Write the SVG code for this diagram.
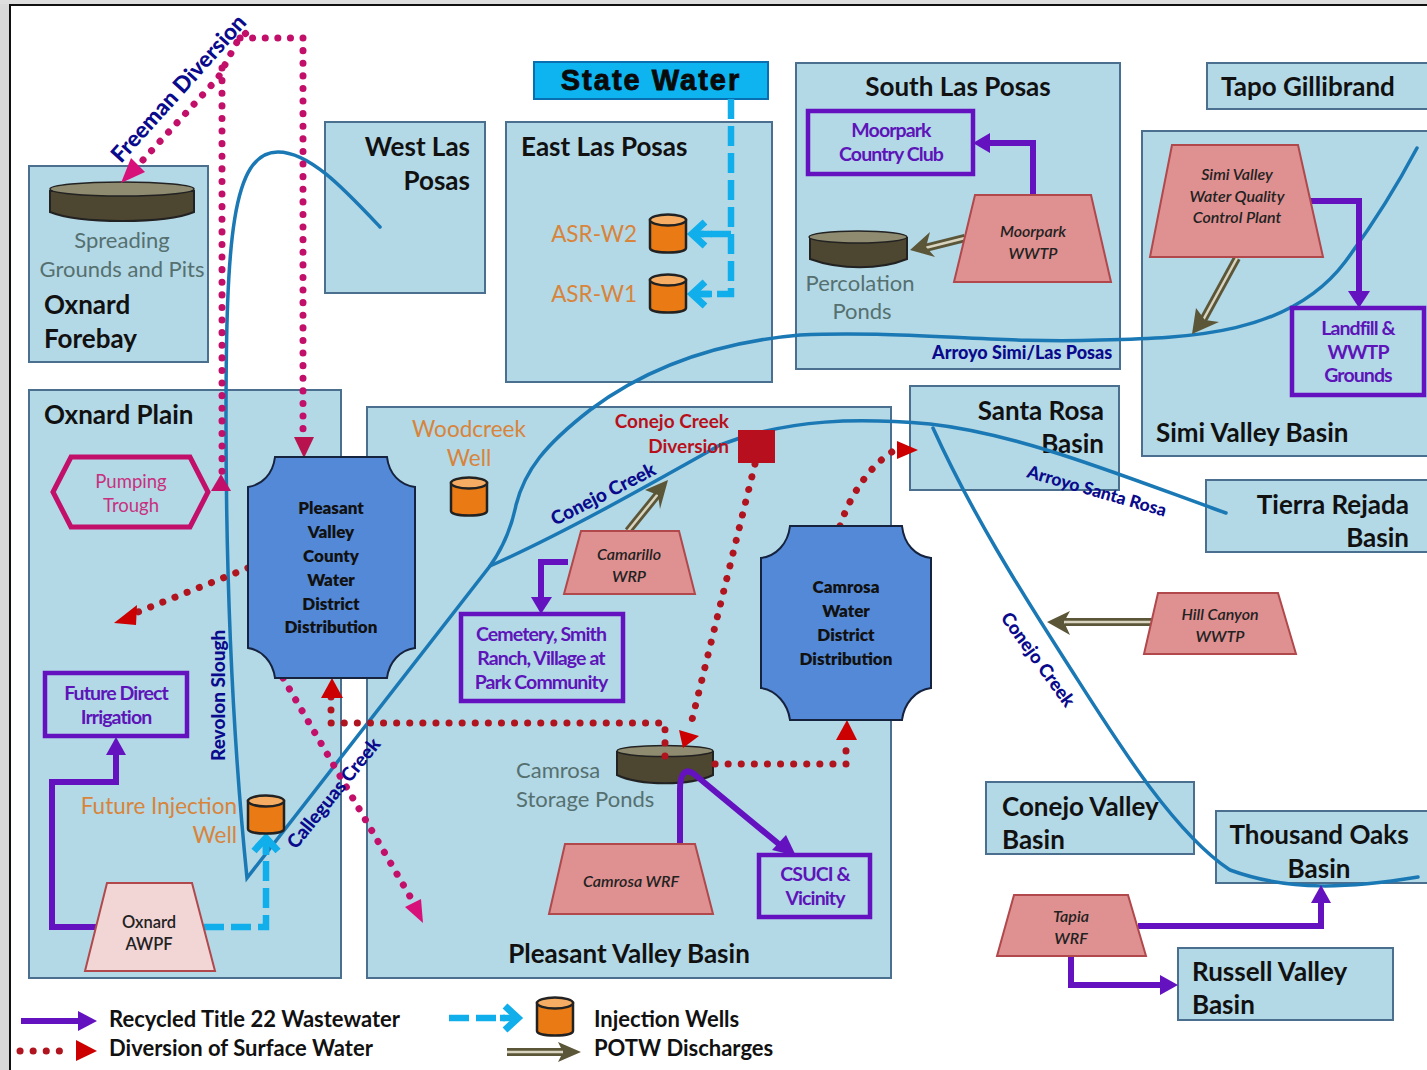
<svg xmlns="http://www.w3.org/2000/svg" width="1427" height="1070" viewBox="0 0 1427 1070">
<style>
text{font-family:Lato,"Open Sans","Liberation Sans",sans-serif}
.b{fill:#b3d8e6;stroke:#4a6f8f;stroke-width:2}
.t{font-size:26px;font-weight:700;fill:#111}
.r{text-anchor:end}
.m{text-anchor:middle}
.g{font-size:22px;fill:#55706f}
.o{font-size:22.5px;fill:#d8843a}
.w{fill:#df9090;stroke:#b0484c;stroke-width:2}
.wt{font-size:16px;font-style:italic;font-weight:600;fill:#222;text-anchor:middle}
.p{fill:none;stroke:#6412c0;stroke-width:6}
.pb{fill:#b3d8e6;stroke:#6412c0;stroke-width:4.5}
.pt{font-size:19.5px;letter-spacing:-.9px;fill:#5d14b8;font-weight:700;text-anchor:middle}
.dr{fill:none;stroke:#b0141e;stroke-width:7;stroke-linecap:round;stroke-dasharray:.1 13}
.dm{fill:none;stroke:#c2106a;stroke-width:7;stroke-linecap:round;stroke-dasharray:.1 12.5}
.c{fill:none;stroke:#1a78b4;stroke-width:3.5;stroke-linecap:round}
.cy{fill:none;stroke:#10aeea;stroke-width:6.5;stroke-dasharray:20 7}
.ch{fill:none;stroke:#10aeea;stroke-width:7;stroke-linejoin:miter}
.cl{font-size:19px;font-weight:900;fill:#0a0a8c}
.potA{fill:none;stroke:#5c5638;stroke-width:8}
.potB{fill:none;stroke:#d8d4c0;stroke-width:2.5}
.dist{fill:#5389d6;stroke:#16233f;stroke-width:2}
.dt{font-size:17px;font-weight:800;fill:#111;text-anchor:middle}
.well{fill:#ea7a14;stroke:#222;stroke-width:2.5}
.welltop{fill:#f6ad63;stroke:#222;stroke-width:2.5}
.pond{fill:#4d4630;stroke:#222;stroke-width:2}
.pondtop{fill:#8f8b70;stroke:#222;stroke-width:1.5}
.leg{font-size:22px;font-weight:700;fill:#111}
</style>
<defs>
<g id="well"><path class="well" d="M-18 -14V14C-18 20 18 20 18 14V-14Z"/><ellipse class="welltop" cx="0" cy="-14" rx="18" ry="5.5"/></g>
</defs>
<rect width="1427" height="1070" fill="#fff"/>
<rect width="9" height="1070" fill="#d9d9d9"/>
<rect width="1427" height="4" fill="#dedede"/>
<path d="M10 1070V5H1427" fill="none" stroke="#111" stroke-width="2"/>

<g id="basin-forebay"><rect class="b" x="29" y="166" width="179" height="196"/>
<text class="g m" x="122" y="248">Spreading</text><text class="g m" x="122" y="277">Grounds and Pits</text>
<text class="t" x="44" y="314">Oxnard</text><text class="t" x="44" y="348">Forebay</text></g>
<g id="basin-westlasposas"><rect class="b" x="325" y="122" width="160" height="171"/>
<text class="t r" x="470" y="156">West Las</text><text class="t r" x="470" y="190">Posas</text></g>
<g id="basin-eastlasposas"><rect class="b" x="506" y="122" width="266" height="260"/>
<text class="t" x="521" y="156">East Las Posas</text></g>
<g id="state-water"><rect x="534" y="62" width="234" height="37" fill="#0db4f0" stroke="#0a6fb0" stroke-width="2"/>
<text x="651" y="90" class="m" font-size="29" font-weight="900" fill="#0a0a0a" stroke="#0a0a0a" stroke-width=".8" letter-spacing="2" style="font-family:'Liberation Sans',sans-serif">State Water</text></g>
<g id="basin-southlasposas"><rect class="b" x="796" y="63" width="324" height="306"/>
<text class="t m" x="958" y="96">South Las Posas</text></g>
<g id="basin-tapo"><rect class="b" x="1207" y="63" width="225" height="46"/>
<text class="t" x="1221" y="96">Tapo Gillibrand</text></g>
<g id="basin-simi"><rect class="b" x="1142" y="131" width="290" height="325"/>
<text class="t" x="1156" y="442">Simi Valley Basin</text></g>
<g id="basin-oxnardplain"><rect class="b" x="29" y="390" width="312" height="588"/>
<text class="t" x="44" y="424">Oxnard Plain</text></g>
<g id="basin-pleasantvalley"><rect class="b" x="367" y="407" width="524" height="571"/>
<text class="t m" x="629" y="963">Pleasant Valley Basin</text></g>
<g id="basin-santarosa"><rect class="b" x="910" y="386" width="209" height="104"/>
<text class="t r" x="1104" y="420">Santa Rosa</text><text class="t r" x="1104" y="453">Basin</text></g>
<g id="basin-tierrarejada"><rect class="b" x="1206" y="480" width="225" height="72"/>
<text class="t r" x="1409" y="514">Tierra Rejada</text><text class="t r" x="1409" y="547">Basin</text></g>
<g id="basin-conejo"><rect class="b" x="986" y="782" width="208" height="72"/>
<text class="t" x="1002" y="816">Conejo Valley</text><text class="t" x="1002" y="849">Basin</text></g>
<g id="basin-thousandoaks"><rect class="b" x="1216" y="811" width="215" height="72"/>
<text class="t m" x="1319" y="844">Thousand Oaks</text><text class="t m" x="1319" y="878">Basin</text></g>
<g id="basin-russell"><rect class="b" x="1178" y="948" width="215" height="72"/>
<text class="t" x="1192" y="981">Russell Valley</text><text class="t" x="1192" y="1014">Basin</text></g>

<g id="node-spreading"><path class="pond" d="M50 191V212C80 224 165 224 194 212V191Z"/><ellipse class="pondtop" cx="122" cy="189" rx="72" ry="7"/></g>
<g id="node-percolation"><path class="pond" d="M810 238V259C840 270 880 270 907 259V238Z"/><ellipse class="pondtop" cx="858" cy="237" rx="49" ry="6"/>
<text class="g m" x="860" y="291">Percolation</text><text class="g m" x="862" y="319">Ponds</text></g>
<g id="node-camrosaponds"><path class="pond" d="M617 752V775C640 786 690 786 713 775V752Z"/><ellipse class="pondtop" cx="665" cy="751" rx="48" ry="5.5"/>
<text class="g" x="516" y="778">Camrosa</text><text class="g" x="516" y="807">Storage Ponds</text></g>

<g id="connectors">
<g id="rivers">
<path class="c" d="M380 227C345 190 310 152 278 152C232 152 226 240 226 420C226 600 235 760 247 878L490 566C505 545 512 525 516 505C525 470 545 445 590 410C650 365 720 342 800 335C900 330 1000 344 1100 340C1190 338 1290 335 1345 262C1380 215 1400 180 1417 148"/>
<path class="c" d="M490 566C560 535 640 490 720 445C790 418 860 418 930 424C1020 434 1120 475 1226 513"/>
<path class="c" d="M933 428C970 510 1020 590 1065 660C1110 730 1170 830 1230 870C1290 892 1350 888 1418 877"/>
</g>
<g id="surface-diversions">
<path class="dm" d="M143 160L218 78L237 42L252 27"/>
<path class="dm" d="M222 68V478"/>
<path class="dm" d="M240 38H303V442"/>
<path class="dm" d="M283 678L415 905"/>
<path class="dr" d="M248 568L138 612"/>
<path class="dr" d="M755 464L690 728"/>
<path class="dr" d="M665 756V723H331V695"/>
<path class="dr" d="M715 764H846V738"/>
<path class="dr" d="M840 526C850 495 870 465 895 450"/>
<path d="M121 183L131 158L145 172Z" fill="#d8107a"/>
<path d="M294 437H314L304 458Z" fill="#b8134e"/>
<path d="M211 491L221 474L231 491Z" fill="#c2106a"/>
<path d="M423 923L405 907L421 899Z" fill="#d8107a"/>
<path d="M114 623L137 605L136 625Z" fill="#c00"/>
<path d="M679 730L699 736L683 748Z" fill="#c00"/>
<path d="M321 698L332 678L343 698Z" fill="#c00"/>
<path d="M836 740L847 720L857 740Z" fill="#c00"/>
<path d="M897 441L918 450L897 459Z" fill="#c00"/>
<rect x="738" y="430" width="37" height="33" fill="#b80f1e"/>
</g>
<g id="recycled">
<path class="p" d="M1033 194V143H990"/><path d="M990 133L973 143L990 153Z" fill="#6412c0"/>
<path class="p" d="M1308 201H1359V292"/><path d="M1348 291L1359 308L1370 291Z" fill="#6412c0"/>
<path class="p" d="M568 562H541V598"/><path d="M531 597L541 614L552 597Z" fill="#6412c0"/>
<path class="p" d="M680 845V790C680 772 686 768 694 774L780 845"/><path d="M772 850L796 856L786 835Z" fill="#6412c0"/>
<path class="p" d="M96 927H52V782H116V752"/><path d="M106 755L116 737L126 755Z" fill="#6412c0"/>
<path class="p" d="M1138 926H1321V900"/><path d="M1311 903L1321 885L1331 903Z" fill="#6412c0"/>
<path class="p" d="M1071 957V985H1163"/><path d="M1160 975L1178 985L1160 995Z" fill="#6412c0"/>
</g>
<g id="injection">
<path class="cy" d="M731 99V294H700"/>
<path class="cy" d="M731 234H700"/>
<path class="ch" d="M705 222L692 234L705 246M705 282L692 294L705 306"/>
<path d="M692 234H712M692 294H712" stroke="#10aeea" stroke-width="6.5"/>
<path class="cy" d="M204 927H266V845"/>
<path class="ch" d="M254 851L266 838L278 851"/>
<path d="M266 838V855" stroke="#10aeea" stroke-width="6.5"/>
</g>
<g id="potw">
<path class="potA" d="M965 238L925 248"/><path class="potB" d="M965 238L925 248"/><path d="M910 250L930 232L926 247L935 257Z" fill="#5c5638"/>
<path class="potA" d="M1237 258L1202 322"/><path class="potB" d="M1237 258L1202 322"/><path d="M1192 334L1196 308L1205 320L1219 322Z" fill="#5c5638"/>
<path class="potA" d="M628 531L658 494"/><path class="potB" d="M628 531L658 494"/><path d="M668 480L645 490L658 495L660 509Z" fill="#5c5638"/>
<path class="potA" d="M1153 622H1065"/><path class="potB" d="M1153 622H1065"/><path d="M1047 622L1070 611L1064 622L1070 635Z" fill="#5c5638"/>
</g>
</g>

<g id="labels">
<text class="cl" transform="translate(121 164) rotate(-48)" style="font-size:22.5px">Freeman Diversion</text>
<text class="cl" transform="translate(225 761) rotate(-90)">Revolon Slough</text>
<text class="cl" transform="translate(296 850) rotate(-51)">Calleguas Creek</text>
<text class="cl" transform="translate(555 526) rotate(-27)">Conejo Creek</text>
<text class="cl" transform="translate(1026 477) rotate(16)" style="font-size:17.5px">Arroyo Santa Rosa</text>
<text class="cl" transform="translate(1000 618) rotate(54)" style="font-size:18.5px">Conejo Creek</text>
<text x="932" y="359" style="font-size:18px;font-weight:900;fill:#0a0a8c">Arroyo Simi/Las Posas</text>
<text x="729" y="428" text-anchor="end" style="font-size:19px;font-weight:700;fill:#b8101a">Conejo Creek</text>
<text x="729" y="453" text-anchor="end" style="font-size:19px;font-weight:700;fill:#b8101a">Diversion</text>
</g>

<g id="node-asrw2"><use href="#well" x="668" y="234"/><text class="o" x="637" y="242" text-anchor="end">ASR-W2</text></g>
<g id="node-asrw1"><use href="#well" x="668" y="294"/><text class="o" x="637" y="302" text-anchor="end">ASR-W1</text></g>
<g id="node-woodcreek"><use href="#well" x="469" y="497"/><text class="o m" x="469" y="437">Woodcreek</text><text class="o m" x="469" y="466">Well</text></g>
<g id="node-futurewell"><use href="#well" x="266" y="815"/><text class="o" x="237" y="814" text-anchor="end">Future Injection</text><text class="o" x="237" y="843" text-anchor="end">Well</text></g>

<g id="node-pumping"><path d="M71 457H190L208 492L190 527H71L53 492Z" fill="none" stroke="#c2106a" stroke-width="5"/>
<text class="m" x="131" y="488" font-size="18.5" fill="#c8307e">Pumping</text><text class="m" x="131" y="512" font-size="18.5" fill="#c8307e">Trough</text></g>

<g id="node-pleasantdist"><path class="dist" d="M275 457H387C389 474 400 485 415 487V648C400 650 389 662 387 678H275C273 662 262 650 248 648V487C262 485 273 474 275 457Z"/>
<text class="dt" x="331" y="514">Pleasant</text><text class="dt" x="331" y="538">Valley</text><text class="dt" x="331" y="562">County</text><text class="dt" x="331" y="586">Water</text><text class="dt" x="331" y="610">District</text><text class="dt" x="331" y="633">Distribution</text></g>
<g id="node-camrosadist"><path class="dist" d="M790 526H902C904 544 915 556 931 558V688C915 690 904 704 902 720H790C788 704 776 690 761 688V558C776 556 788 544 790 526Z"/>
<text class="dt" x="846" y="593">Camrosa</text><text class="dt" x="846" y="617">Water</text><text class="dt" x="846" y="641">District</text><text class="dt" x="846" y="665">Distribution</text></g>

<g id="node-moorparkcc"><rect class="pb" x="808" y="111" width="165" height="63"/><text class="pt" x="891" y="137">Moorpark</text><text class="pt" x="891" y="161">Country Club</text></g>
<g id="node-landfill"><rect class="pb" x="1292" y="308" width="132" height="87"/><text class="pt" x="1358" y="335">Landfill &amp;</text><text class="pt" x="1358" y="359">WWTP</text><text class="pt" x="1358" y="382">Grounds</text></g>
<g id="node-cemetery"><rect class="pb" x="461" y="614" width="162" height="87"/><text class="pt" x="541" y="641">Cemetery, Smith</text><text class="pt" x="541" y="665">Ranch, Village at</text><text class="pt" x="541" y="689">Park Community</text></g>
<g id="node-futureirrigation"><rect class="pb" x="45" y="673" width="142" height="63"/><text class="pt" x="116" y="700">Future Direct</text><text class="pt" x="116" y="724">Irrigation</text></g>
<g id="node-csuci"><rect class="pb" x="759" y="855" width="111" height="62"/><text class="pt" x="815" y="881">CSUCI &amp;</text><text class="pt" x="815" y="905">Vicinity</text></g>

<g id="node-moorparkwwtp"><path class="w" d="M975 195H1091L1111 282H954Z"/><text class="wt" x="1033" y="237">Moorpark</text><text class="wt" x="1033" y="259">WWTP</text></g>
<g id="node-simiplant"><path class="w" d="M1172 145H1298L1323 257H1150Z"/><text class="wt" x="1237" y="180">Simi Valley</text><text class="wt" x="1237" y="202">Water Quality</text><text class="wt" x="1237" y="223">Control Plant</text></g>
<g id="node-camarillo"><path class="w" d="M581 531H679L695 594H564Z"/><text class="wt" x="629" y="560">Camarillo</text><text class="wt" x="629" y="582">WRP</text></g>
<g id="node-hillcanyon"><path class="w" d="M1158 593H1278L1296 654H1144Z"/><text class="wt" x="1220" y="620">Hill Canyon</text><text class="wt" x="1220" y="642">WWTP</text></g>
<g id="node-camrosawrf"><path class="w" d="M565 844H695L713 914H549Z"/><text class="wt" x="631" y="887">Camrosa WRF</text></g>
<g id="node-tapia"><path class="w" d="M1014 895H1128L1146 956H997Z"/><text class="wt" x="1071" y="922">Tapia</text><text class="wt" x="1071" y="944">WRF</text></g>
<g id="node-oxnardawpf"><path d="M107 883H192L215 971H85Z" fill="#f2d5d5" stroke="#b0484c" stroke-width="2"/><text class="m" x="149" y="928" font-size="16.5" font-weight="600" fill="#222">Oxnard</text><text class="m" x="149" y="950" font-size="16.5" font-weight="600" fill="#222">AWPF</text></g>

<g id="legend">
<path class="p" d="M21 1021H80"/><path d="M78 1011L97 1021L78 1031Z" fill="#6412c0"/>
<text class="leg" x="109" y="1027">Recycled Title 22 Wastewater</text>
<path class="dr" d="M20 1051H72"/><path d="M76 1040L97 1051L76 1061Z" fill="#c00"/>
<text class="leg" x="109" y="1056">Diversion of Surface Water</text>
<path class="cy" d="M449 1018H505"/><path class="ch" d="M505 1006L518 1018L505 1030"/><path d="M500 1018H518" stroke="#10aeea" stroke-width="6.5"/>
<use href="#well" x="555" y="1017"/>
<text class="leg" x="594" y="1027">Injection Wells</text>
<path class="potA" d="M507 1052H562"/><path class="potB" d="M507 1052H562"/><path d="M581 1052L558 1042L563 1052L558 1062Z" fill="#5c5638"/>
<text class="leg" x="594" y="1056">POTW Discharges</text>
</g>
</svg>
